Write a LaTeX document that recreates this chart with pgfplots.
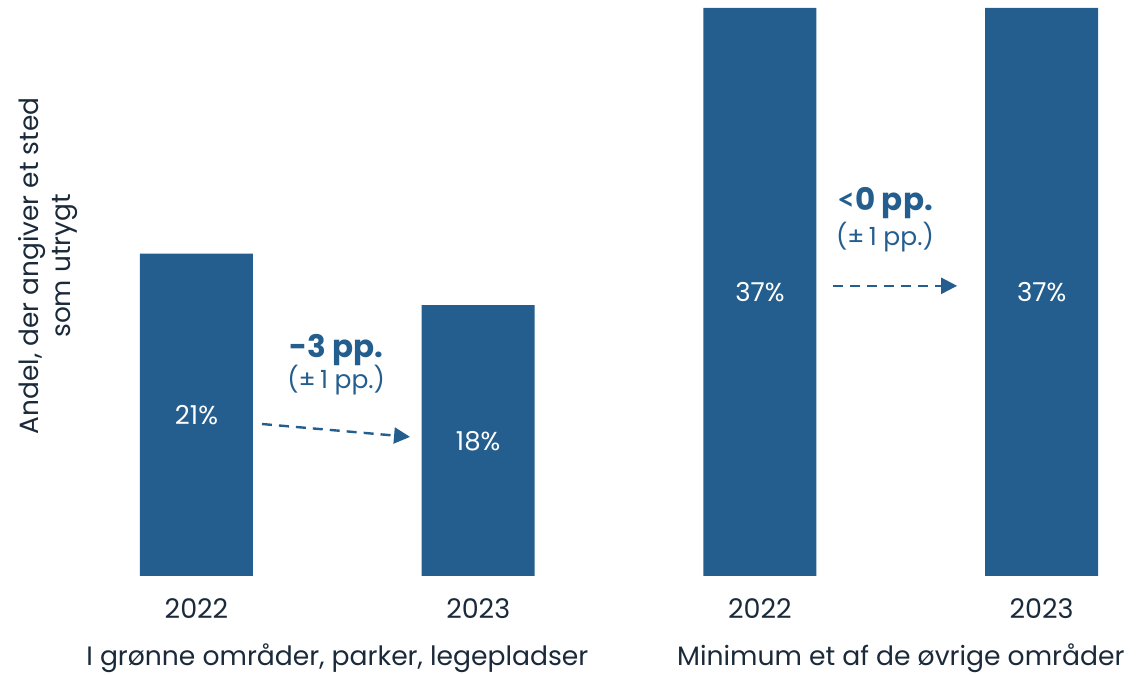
\documentclass[border=0pt]{standalone}
\usepackage{pgfplots}
\pgfplotsset{compat=1.18}
\usepackage{fontspec}
\setmainfont{Poppins}
\newfontfamily\symfont{Lato}
\usetikzlibrary{arrows.meta}
\definecolor{barblue}{HTML}{245E8F}
\definecolor{txt}{HTML}{1B2A3A}

\pgfplotstableread{
x y
0 21
1 17.65
2 37
3 37
}\bars

% label positions: middle of each bar
\pgfplotstableread{
x y lab
0 10.5 21\%
1 8.8 18\%
2 18.5 37\%
3 18.5 37\%
}\barlabels

\begin{document}
\begin{tikzpicture}
\begin{axis}[
  scale only axis, width=573.5pt, height=284pt,
  xmin=-0.6975, xmax=3.374, ymin=0, ymax=37,
  axis line style={draw=none}, tick style={draw=none},
  ytick=\empty, xtick={0,1,2,3}, xticklabels={2022,2023,2022,2023},
  xticklabel style={font=\fontsize{13.5}{16}\selectfont, text=txt, anchor=center, yshift=-16.5pt},
  clip=false,
]
\addplot[ybar, bar width=56.5pt, fill=barblue, draw=none] table[x=x, y=y] {\bars};
\addplot[draw=none, mark=none, nodes near coords, point meta=explicit symbolic,
  nodes near coords style={anchor=center, text=white, font=\fontsize{13}{15}\selectfont}]
  table[x=x, y=y, meta=lab] {\barlabels};

% change annotations
\node[text=barblue, font=\bfseries\fontsize{15.5}{18}\selectfont] at (axis cs:0.496,14.7) {-3 pp.};
\node[text=barblue, font=\fontsize{12.5}{15}\selectfont] at (axis cs:0.496,12.77) {(±\,1 pp.)};
\draw[barblue, line width=1.2pt, dash pattern=on 5pt off 3.5pt, -{Triangle[length=8pt,width=8pt]}]
  (axis cs:0.2325,9.9) -- (axis cs:0.758,9.06);
\node[text=barblue, font=\bfseries\fontsize{15.5}{18}\selectfont] at (axis cs:2.444,24.3) {{\symfont\bfseries <}0 pp.};
\node[text=barblue, font=\fontsize{12.5}{15}\selectfont] at (axis cs:2.444,22.1) {(±\,1 pp.)};
\draw[barblue, line width=1.2pt, dash pattern=on 5pt off 3.5pt, -{Triangle[length=8pt,width=8pt]}]
  (axis cs:2.259,18.9) -- (axis cs:2.70,18.9);

% group labels
\node[text=txt, font=\fontsize{13.3}{16}\selectfont, anchor=base, yshift=-45pt] at (axis cs:0.5,0) {I grønne områder, parker, legepladser};
\node[text=txt, font=\fontsize{13.3}{16}\selectfont, anchor=base, yshift=-45pt] at (axis cs:2.5,0) {Minimum et af de øvrige områder};

% y label
\node[text=txt, font=\fontsize{13.2}{16}\selectfont, rotate=90, align=center] at (axis cs:-0.527,20.2) {Andel, der angiver et sted\\som utrygt};

\coordinate (bl) at (axis cs:-0.6975,-6.45);
\coordinate (tr) at (axis cs:3.374,37.52);
\end{axis}
\pgfresetboundingbox
\path[use as bounding box] (bl) rectangle (tr);
\end{tikzpicture}
\end{document}
